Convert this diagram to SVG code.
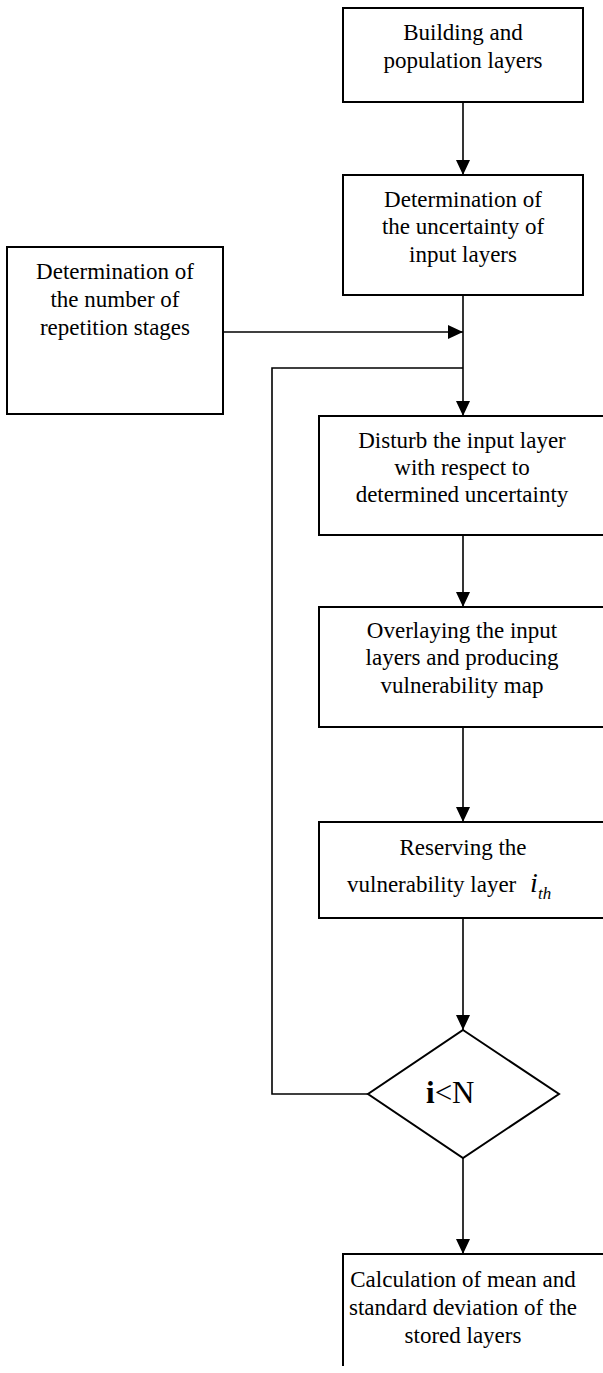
<svg xmlns="http://www.w3.org/2000/svg" width="603" height="1373" viewBox="0 0 603 1373">
<defs>
<marker id="arr" markerWidth="15" markerHeight="14" refX="15" refY="7" orient="auto" markerUnits="userSpaceOnUse">
<path d="M0,0 L15,7 L0,14 Z" fill="#000"/>
</marker>
<style>
.box{fill:#fff;stroke:#000;stroke-width:2}
.ln{fill:none;stroke:#000;stroke-width:1.6}
.t{font-family:"Liberation Serif","Times New Roman",serif;font-size:23px;fill:#000;text-anchor:middle}
</style>
</defs>
<rect width="603" height="1373" fill="#fff"/>
<g id="connectors">
<line class="ln" x1="463" y1="102" x2="463" y2="175" marker-end="url(#arr)"/>
<line class="ln" x1="463" y1="295" x2="463" y2="416" marker-end="url(#arr)"/>
<line class="ln" x1="223" y1="332" x2="463" y2="332" marker-end="url(#arr)"/>
<polyline class="ln" points="368,1094 272,1094 272,368 463,368"/>
<line class="ln" x1="463" y1="535" x2="463" y2="607" marker-end="url(#arr)"/>
<line class="ln" x1="463" y1="727" x2="463" y2="822" marker-end="url(#arr)"/>
<line class="ln" x1="463" y1="918" x2="463" y2="1030" marker-end="url(#arr)"/>
<line class="ln" x1="463" y1="1158" x2="463" y2="1254" marker-end="url(#arr)"/>
</g>
<g id="n1">
<rect class="box" x="343" y="8" width="240" height="94"/>
<text class="t" x="463" y="40">Building and</text>
<text class="t" x="463" y="68">population layers</text>
</g>
<g id="n2">
<rect class="box" x="343" y="175" width="240" height="120"/>
<text class="t" x="463" y="207">Determination of</text>
<text class="t" x="463" y="234">the uncertainty of</text>
<text class="t" x="463" y="262">input layers</text>
</g>
<g id="n3">
<rect class="box" x="7" y="247" width="216" height="167"/>
<text class="t" x="115" y="279">Determination of</text>
<text class="t" x="115" y="307">the number of</text>
<text class="t" x="115" y="335">repetition stages</text>
</g>
<g id="n4">
<rect class="box" x="319" y="416" width="300" height="119"/>
<text class="t" x="462" y="448">Disturb the input layer</text>
<text class="t" x="462" y="475">with respect to</text>
<text class="t" x="462" y="502">determined uncertainty</text>
</g>
<g id="n5">
<rect class="box" x="319" y="607" width="300" height="120"/>
<text class="t" x="462" y="638">Overlaying the input</text>
<text class="t" x="462" y="665">layers and producing</text>
<text class="t" x="462" y="693">vulnerability map</text>
</g>
<g id="n6">
<rect class="box" x="319" y="822" width="300" height="96"/>
<text class="t" x="463" y="855">Reserving the</text>
<text class="t" x="347" y="892" style="text-anchor:start">vulnerability layer</text>
<text class="t" x="530" y="892" style="text-anchor:start;font-style:italic;font-size:28px">i</text>
<text class="t" x="538" y="899" style="text-anchor:start;font-style:italic;font-size:17px">th</text>
</g>
<g id="n7">
<polygon class="box" points="463,1030 559,1094 463,1158 368,1094"/>
<text class="t" x="426" y="1103" style="text-anchor:start;font-size:31px"><tspan font-weight="bold">i</tspan>&lt;N</text>
</g>
<g id="n8">
<path class="ln" d="M610,1254 H343 V1366" style="stroke-width:2"/>
<text class="t" x="463" y="1287">Calculation of mean and</text>
<text class="t" x="463" y="1315">standard deviation of the</text>
<text class="t" x="463" y="1343">stored layers</text>
</g>
</svg>
